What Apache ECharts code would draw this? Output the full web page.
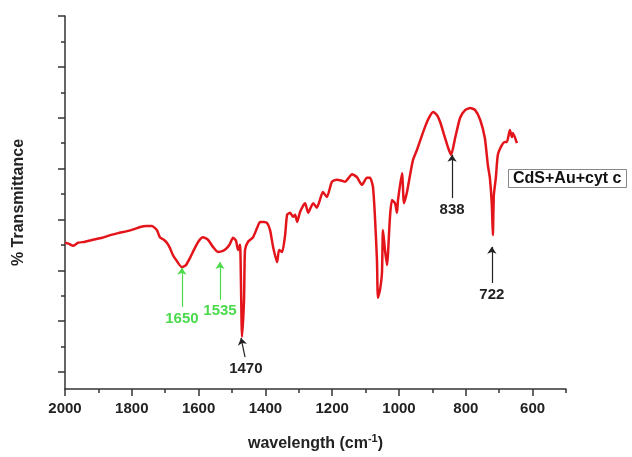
<!DOCTYPE html>
<html>
<head>
<meta charset="utf-8">
<script src="https://cdn.jsdelivr.net/npm/echarts@6/dist/echarts.min.js"></script>
<style>
  html,body{margin:0;padding:0;background:#fff;}
  #chart{width:632px;height:457px;}
</style>
</head>
<body>
<div id="chart"></div>
<script>
// wavenumber (cm-1) and transmittance
var wavenumber = [2000,1988,1976,1961,1940,1916,1889,1865,1841,1814,1793,1775,1757,1740,1725,1716,1704,1695,1686,1677,1665,1650,1638,1626,1611,1599,1587,1572,1557,1542,1527,1515,1506,1497,1488,1482,1476,1470,1464,1461,1452,1437,1425,1416,1404,1395,1386,1377,1365,1359,1350,1341,1335,1326,1317,1311,1305,1296,1281,1272,1257,1246,1237,1228,1216,1201,1186,1171,1162,1150,1141,1126,1111,1096,1087,1078,1072,1066,1063,1057,1051,1048,1042,1036,1027,1021,1012,1006,1003,991,985,976,967,958,946,934,922,910,898,886,877,862,853,844,832,817,802,787,772,757,743,734,728,722,719,716,710,704,692,683,677,668,662,659,647];
var transmittance = [25.4,25.2,24.8,25.4,25.6,26.0,26.4,26.9,27.3,27.7,28.1,28.5,28.7,28.7,27.9,26.5,26.0,25.4,24.4,23.0,21.8,20.6,21.0,22.4,24.4,25.8,26.5,26.0,24.6,23.6,23.8,24.4,25.2,26.4,25.8,24.0,25.0,6.9,14.2,24.0,25.6,26.5,28.3,29.5,29.5,29.3,27.9,24.6,21.6,24.0,23.6,26.9,30.9,31.3,30.5,30.9,29.5,31.5,33.2,31.3,33.2,32.3,33.8,35.4,34.4,37.4,37.8,37.6,37.4,38.2,38.9,38.3,36.8,38.2,38.2,36.4,30.5,22.0,14.6,16.1,19.5,27.9,24.0,21.0,30.5,33.8,33.2,31.3,33.8,39.1,33.2,35.4,38.7,41.7,43.7,46.0,48.2,50.0,51.1,50.5,49.2,46.0,44.1,42.7,46.0,50.0,51.5,51.9,51.5,49.6,46.0,40.7,38.2,32.8,26.9,34.8,38.2,42.7,44.6,45.2,45.2,47.6,46.2,47.0,45.0];

// axis ticks
var xMajor = [600,800,1000,1200,1400,1600,1800,2000];
var xMinor = [500,700,900,1100,1300,1500,1700,1900];
var yMajor = [0,10,20,30,40,50,60,70];
var yMinor = [5,15,25,35,45,55,65];

// peak labels: text, tail [x,y], head [x,y], colour
var peakText = ['1650','1535','1470','838','722'];
var peakTail = [[1650,12.8],[1536,14.2],[1461,2.9],[841,34.2],[722,17.5]];
var peakHead = [[1650,20.5],[1536,21.6],[1473,6.7],[841,42.7],[722,24.6]];
var peakColor = ['#4cd94c','#4cd94c','#222','#222','#222'];

var seriesData = wavenumber.map(function(w,i){ return [w, transmittance[i]]; });

var arrows = peakText.map(function(t,i){
    return [
        {
            coord: peakTail[i],
            lineStyle: {color: peakColor[i], width: 1.2, type: 'solid'},
            label: {show: true, position: 'start', formatter: t, color: peakColor[i],
                fontSize: 15, fontWeight: 'bold', fontFamily: 'Liberation Sans, Arial', distance: 4}
        },
        {coord: peakHead[i]}
    ];
});

var axisLineStyle = {color: '#333', width: 1.5};

var chart = echarts.init(document.getElementById('chart'));
chart.setOption({
    animation: false,
    title: {
        text: 'CdS+Au+cyt c',
        left: 508, top: 169,
        padding: [1, 5],
        borderColor: '#888', borderWidth: 1,
        textStyle: {fontSize: 16, fontWeight: 'bold', color: '#111', fontFamily: 'Liberation Sans, Arial', lineHeight: 17}
    },
    grid: {left: 65, right: 66, top: 16, bottom: 68},
    xAxis: [
        {
            type: 'value', min: 500, max: 2000, inverse: true, position: 'bottom',
            name: '{a|wavelength (cm}{s|-1}{a|)}', nameLocation: 'middle', nameGap: 44,
            nameTextStyle: {
                rich: {
                    a: {fontSize: 16, fontWeight: 'bold', color: '#222', fontFamily: 'Liberation Sans, Arial'},
                    s: {fontSize: 11, fontWeight: 'bold', color: '#222', fontFamily: 'Liberation Sans, Arial', verticalAlign: 'top', padding: [0,0,10,0]}
                }
            },
            axisLine: {onZero: false, lineStyle: axisLineStyle},
            axisTick: {customValues: xMajor, length: 7, lineStyle: axisLineStyle},
            axisLabel: {customValues: xMajor, formatter: function(v){ return String(v); },
                fontSize: 15, fontWeight: 'bold', color: '#222', margin: 12, fontFamily: 'Liberation Sans, Arial'},
            splitLine: {show: false}
        },
        {
            type: 'value', min: 500, max: 2000, inverse: true, position: 'bottom',
            axisLine: {show: false, onZero: false},
            axisTick: {customValues: xMinor, length: 4, lineStyle: axisLineStyle},
            axisLabel: {show: false},
            splitLine: {show: false}
        }
    ],
    yAxis: [
        {
            type: 'value', min: -3.35, max: 70, position: 'left',
            name: '% Transmittance', nameLocation: 'middle', nameGap: 38,
            nameTextStyle: {fontSize: 16, fontWeight: 'bold', color: '#222', fontFamily: 'Liberation Sans, Arial'},
            axisLine: {show: true, onZero: false, lineStyle: axisLineStyle},
            axisTick: {show: true, customValues: yMajor, length: 7, lineStyle: axisLineStyle},
            axisLabel: {show: false},
            splitLine: {show: false}
        },
        {
            type: 'value', min: -3.35, max: 70, position: 'left',
            axisLine: {show: false, onZero: false},
            axisTick: {show: true, customValues: yMinor, length: 4, lineStyle: axisLineStyle},
            axisLabel: {show: false},
            splitLine: {show: false}
        }
    ],
    series: [
        {
            name: 'CdS+Au+cyt c',
            type: 'line',
            data: seriesData,
            showSymbol: false,
            smooth: 0.2,
            lineStyle: {color: '#e3151b', width: 2.5},
            markLine: {
                silent: true,
                symbol: ['none', 'arrow'],
                symbolSize: 7,
                data: arrows
            }
        }
    ]
});
</script>
</body>
</html>
